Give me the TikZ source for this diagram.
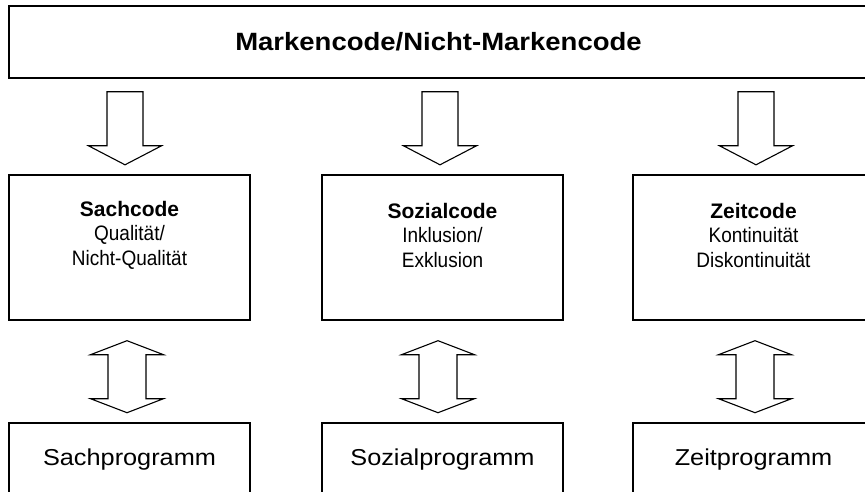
\documentclass[tikz,border=0pt]{standalone}
\usepackage{fontspec}
\setmainfont{Liberation Sans}
\usetikzlibrary{positioning}

% text set a little wider / taller, as in the scanned figure
\newcommand{\wtext}[1]{\scalebox{1.1}[1]{#1}}
\newcommand{\ttext}[1]{\scalebox{1}[1.1]{#1}}

\tikzset{
  box/.style={draw, line width=1.4pt, align=center},
  codebox/.style={box, minimum width=241, minimum height=145},
  progbox/.style={box, minimum width=241, minimum height=74, font=\fontsize{23}{27}\selectfont},
  codetext/.style={align=center, inner sep=0pt, font=\fontsize{19}{24.5}\selectfont},
  hollow/.style={draw, line width=1.1pt, line join=miter, fill=white},
  pics/downarrow/.style={code={
    \draw[hollow] (-18,0) -- (-18,-54) -- (-36.5,-54) -- (0,-73) -- (36.5,-54) -- (18,-54) -- (18,0) -- cycle;}},
  pics/botharrow/.style={code={
    \draw[hollow] (0,0) -- (36.5,-14) -- (19,-14) -- (19,-58) -- (36.5,-58) -- (0,-72)
      -- (-36.5,-58) -- (-19,-58) -- (-19,-14) -- (-36.5,-14) -- cycle;}},
}

\begin{document}
\begin{tikzpicture}[x=1pt, y=1pt]
    \useasboundingbox (0,0) rectangle (865,-492);
    \clip (0,0) rectangle (865,-492);
    \node[box, minimum width=859, minimum height=72, line width=1.6pt, font=\fontsize{25}{30}\selectfont\bfseries] (marken) at (438.5,-42) {\wtext{Markencode/Nicht-Markencode}};
    % code boxes
    \node[codebox] (sach) at (129.5,-247.5) {};
    \node[codebox] (sozial) at (442.5,-247.5) {};
    \node[codebox] (zeit) at (753.5,-247.5) {};
    \node[codetext] (sachtext) at ([yshift=12.5]sach.center) {{\fontsize{21}{24.5}\selectfont\bfseries Sachcode}\\\ttext{Qualität/}\\\ttext{Nicht-Qualität}};
    \node[codetext] (sozialtext) at ([yshift=12.5]sozial.center) {{\fontsize{21}{24.5}\selectfont\bfseries Sozialcode}\\\ttext{Inklusion/}\\\ttext{Exklusion}};
    \node[codetext] (zeittext) at ([yshift=12.5]zeit.center) {{\fontsize{21}{24.5}\selectfont\bfseries Zeitcode}\\\ttext{Kontinuität}\\\ttext{Diskontinuität}};
    % program boxes
    \node[progbox] (sachprog) at (129.5,-460) {\wtext{Sachprogramm}};
    \node[progbox] (sozialprog) at (442.5,-460) {\wtext{Sozialprogramm}};
    \node[progbox] (zeitprog) at (753.5,-460) {\wtext{Zeitprogramm}};
    % arrows
    \foreach \n/\dx in {sach/-4.5, sozial/-2.5, zeit/2.5}
        \pic at ([xshift=\dx, yshift=-13]\n.north |- marken.south) {downarrow};
    \foreach \n/\dx in {sach/-2.5, sozial/-4.5, zeit/1.5}
        \pic at ([xshift=\dx, yshift=-20]\n.south) {botharrow};
\end{tikzpicture}
\end{document}
